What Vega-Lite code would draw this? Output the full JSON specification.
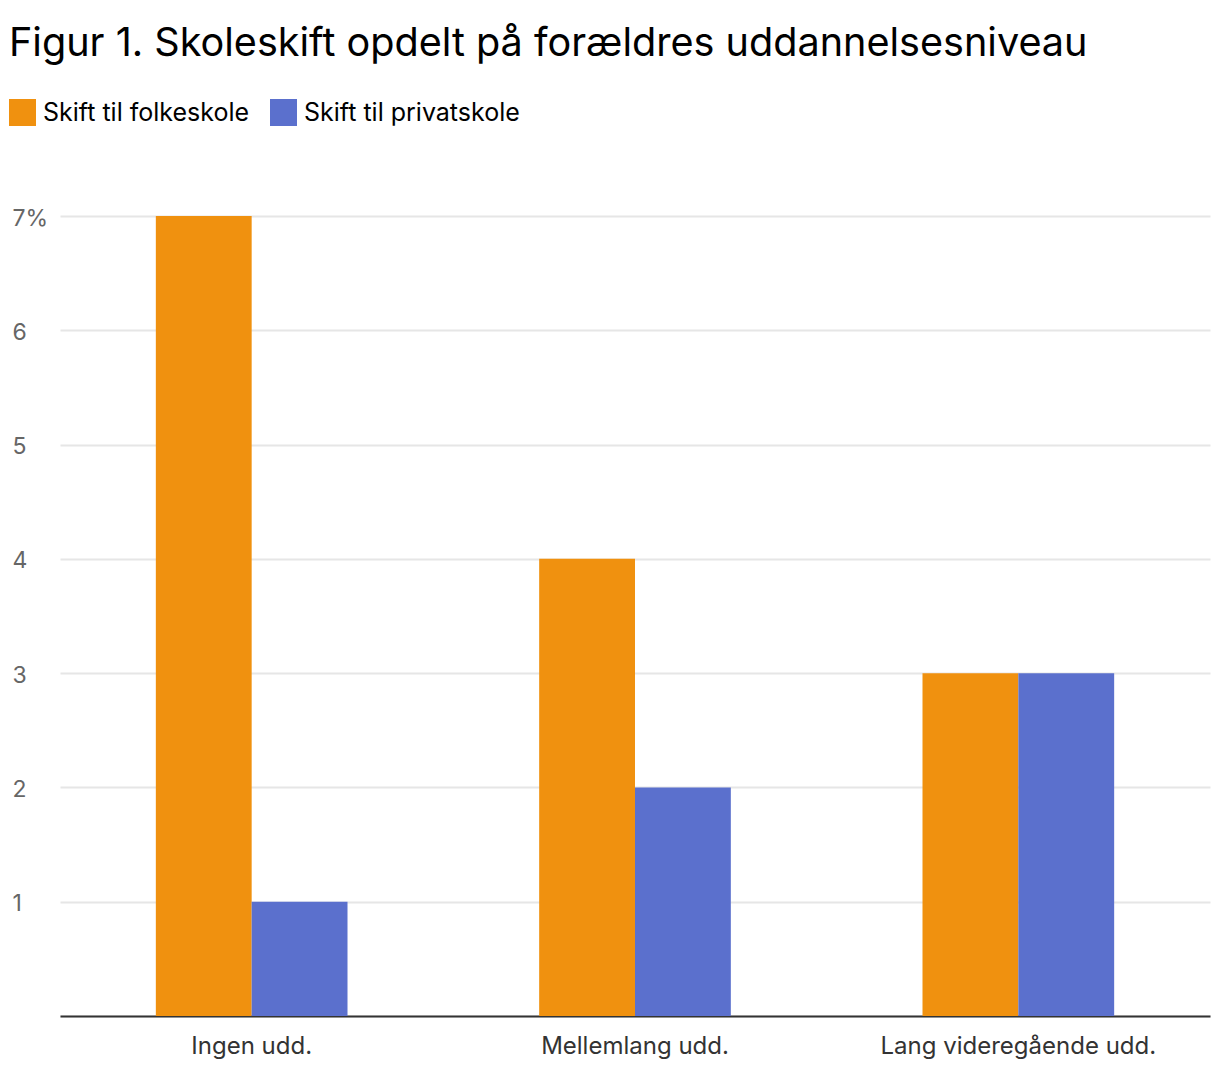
{
  "$schema": "https://vega.github.io/schema/vega-lite/v6.json",
  "autosize": "none",
  "width": 1150,
  "height": 800,
  "padding": {"left": 60, "top": 216, "right": 10, "bottom": 62},
  "background": "white",
  "config": {
    "font": "Inter",
    "view": {"stroke": null}
  },
  "title": {
    "text": "Figur 1. Skoleskift opdelt på forældres uddannelsesniveau",
    "anchor": "start",
    "frame": "group",
    "dx": -51,
    "offset": 3,
    "baseline": "alphabetic",
    "fontSize": 39.6,
    "fontWeight": "normal",
    "color": "#000000",
    "font": "Inter"
  },
  "data": {
    "values": [
      {"uddannelse": "Ingen udd.", "type": "Skift til folkeskole", "andel": 7},
      {"uddannelse": "Ingen udd.", "type": "Skift til privatskole", "andel": 1},
      {"uddannelse": "Mellemlang udd.", "type": "Skift til folkeskole", "andel": 4},
      {"uddannelse": "Mellemlang udd.", "type": "Skift til privatskole", "andel": 2},
      {"uddannelse": "Lang videregående udd.", "type": "Skift til folkeskole", "andel": 3},
      {"uddannelse": "Lang videregående udd.", "type": "Skift til privatskole", "andel": 3}
    ]
  },
  "mark": {"type": "bar"},
  "encoding": {
    "x": {
      "field": "uddannelse",
      "type": "nominal",
      "sort": ["Ingen udd.", "Mellemlang udd.", "Lang videregående udd."],
      "scale": {"paddingInner": 0.5, "paddingOuter": 0.25},
      "axis": {
        "title": null,
        "labelAngle": 0,
        "labelFontSize": 24,
        "labelLimit": 0,
        "labelColor": "#333333",
        "labelPadding": 18,
        "ticks": false,
        "domainColor": "#333333",
        "domainWidth": 2,
        "grid": false
      }
    },
    "xOffset": {
      "field": "type",
      "type": "nominal",
      "scale": {"paddingInner": 0, "paddingOuter": 0}
    },
    "y": {
      "field": "andel",
      "type": "quantitative",
      "scale": {"domain": [0, 7], "nice": false},
      "axis": {
        "title": null,
        "values": [0, 1, 2, 3, 4, 5, 6, 7],
        "labelExpr": "datum.value == 7 ? '7%' : (datum.value == 0 ? '' : datum.value)",
        "labelAlign": "left",
        "labelPadding": 48,
        "labelFontSize": 23,
        "labelColor": "#666666",
        "labelOffset": 2,
        "ticks": false,
        "domain": false,
        "gridColor": "#e6e6e6",
        "gridWidth": 2
      }
    },
    "color": {
      "field": "type",
      "type": "nominal",
      "scale": {
        "domain": ["Skift til folkeskole", "Skift til privatskole"],
        "range": ["#F0910F", "#5B70CD"]
      },
      "legend": {
        "title": null,
        "orient": "none",
        "legendX": -51,
        "legendY": -117,
        "direction": "horizontal",
        "symbolType": "square",
        "symbolSize": 729,
        "symbolStrokeWidth": 0,
        "symbolOpacity": 1,
        "labelFontSize": 25,
        "labelLimit": 0,
        "labelColor": "#000000",
        "labelOffset": 7,
        "columnPadding": 20
      }
    }
  }
}
